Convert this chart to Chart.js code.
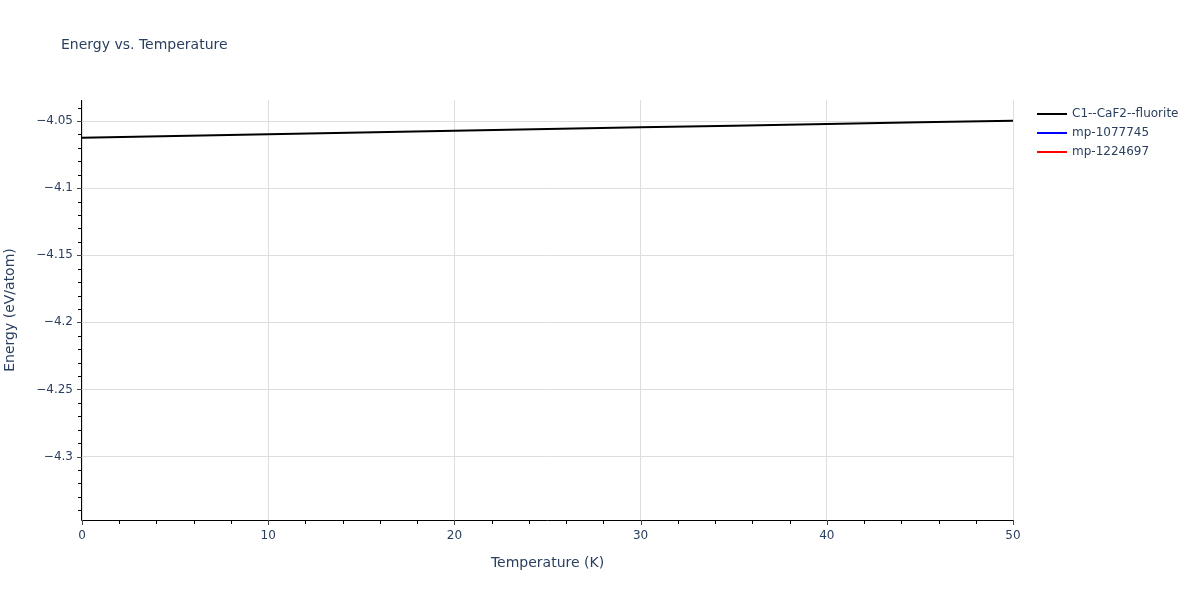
<!DOCTYPE html>
<html>
<head>
<meta charset="utf-8">
<script src="https://cdn.jsdelivr.net/npm/chart.js@4.4.1/dist/chart.umd.min.js"></script>
<style>
  html, body { margin: 0; padding: 0; background: #fff; }
  #wrap { position: relative; width: 1200px; height: 600px; }
</style>
</head>
<body>
<div id="wrap"><canvas id="energyChart" width="1200" height="600"></canvas></div>
<script>
// values
const temperatures = [0, 5, 10, 15, 20, 25, 30, 35, 40, 45, 50];
const energyFluorite = [-4.0625, -4.0612, -4.0599, -4.0586, -4.0573, -4.0560, -4.0547, -4.0534, -4.0521, -4.0509, -4.0497];
const energyMp1077745 = [];
const energyMp1224697 = [];
const seriesNames = ['C1--CaF2--fluorite', 'mp-1077745', 'mp-1224697'];
const seriesColors = ['#000000', '#0000ff', '#ff0000'];
const xTickValues = [0, 10, 20, 30, 40, 50];
const yTickValues = [-4.3, -4.25, -4.2, -4.15, -4.1, -4.05];

const fontFam = '"DejaVu Sans", Verdana, sans-serif';
const txtColor = '#2a3f5f';

function toPoints(xs, ys) {
	return ys.map((y, i) => ({ x: xs[i], y: y }));
}

// title, ticks (major + minor) and legend, plotly look
const extras = {
	id: 'extras',
	afterDraw(chart) {
		const ctx = chart.ctx;
		const area = chart.chartArea;
		const xs = chart.scales.x, ys = chart.scales.y;
		ctx.save();
		// title
		ctx.fillStyle = txtColor;
		ctx.font = '14px ' + fontFam;
		ctx.textBaseline = 'middle';
		ctx.textAlign = 'left';
		ctx.fillText('Energy vs. Temperature', 61, 45);

		// axis lines
		ctx.strokeStyle = '#000';
		ctx.lineWidth = 1;
		ctx.beginPath();
		ctx.moveTo(area.left - 0.5, area.top);
		ctx.lineTo(area.left - 0.5, area.bottom + 0.5);
		ctx.lineTo(area.right, area.bottom + 0.5);
		ctx.stroke();

		// minor ticks
		ctx.strokeStyle = '#000';
		ctx.beginPath();
		for (let v = 0; v <= 50.001; v += 2) {
			if (Math.abs(v % 10) < 1e-6) continue;
			const px = Math.round(xs.getPixelForValue(v)) + 0.5;
			ctx.moveTo(px, area.bottom);
			ctx.lineTo(px, area.bottom + 4);
		}
		for (let k = -434; k <= -404; k++) {
			if (k % 5 === 0) continue;
			const v = k / 100;
			if (v < ys.min || v > ys.max) continue;
			const py = Math.round(ys.getPixelForValue(v)) + 0.5;
			ctx.moveTo(area.left, py);
			ctx.lineTo(area.left - 4, py);
		}
		ctx.stroke();

		// major ticks
		ctx.strokeStyle = '#444';
		ctx.beginPath();
		xTickValues.forEach(v => {
			const px = Math.round(xs.getPixelForValue(v)) + 0.5;
			ctx.moveTo(px, area.bottom);
			ctx.lineTo(px, area.bottom + 5);
		});
		yTickValues.forEach(v => {
			const py = Math.round(ys.getPixelForValue(v)) + 0.5;
			ctx.moveTo(area.left, py);
			ctx.lineTo(area.left - 5, py);
		});
		ctx.stroke();

		// legend
		ctx.font = '12px ' + fontFam;
		ctx.textAlign = 'left';
		chart.data.datasets.forEach((ds, i) => {
			const y = 114 + i * 19;
			ctx.strokeStyle = ds.borderColor;
			ctx.lineWidth = 2;
			ctx.beginPath();
			ctx.moveTo(1037, y);
			ctx.lineTo(1067, y);
			ctx.stroke();
			ctx.fillStyle = txtColor;
			ctx.fillText(ds.label, 1072, y);
		});
		ctx.restore();
	}
};

const ctx = document.getElementById('energyChart');
const chart = new Chart(ctx, {
	type: 'line',
	data: {
		datasets: [
			{ label: seriesNames[0], data: toPoints(temperatures, energyFluorite), borderColor: seriesColors[0], backgroundColor: seriesColors[0], borderWidth: 2, pointRadius: 0, tension: 0 },
			{ label: seriesNames[1], data: toPoints(temperatures, energyMp1077745), borderColor: seriesColors[1], backgroundColor: seriesColors[1], borderWidth: 2, pointRadius: 0, tension: 0 },
			{ label: seriesNames[2], data: toPoints(temperatures, energyMp1224697), borderColor: seriesColors[2], backgroundColor: seriesColors[2], borderWidth: 2, pointRadius: 0, tension: 0 }
		]
	},
	options: {
		responsive: false,
		animation: false,
		layout: { padding: { top: 100, right: 187, left: 0, bottom: 0 } },
		plugins: {
			legend: { display: false },
			title: { display: false },
			tooltip: { enabled: false }
		},
		scales: {
			x: {
				type: 'linear',
				min: 0,
				max: 50,
				afterBuildTicks: s => { s.ticks = xTickValues.map(v => ({ value: v })); },
				afterFit: s => { s.height = 80; },
				grid: { color: '#dedede', drawTicks: false, drawOnChartArea: true },
				border: { display: false },
				ticks: { color: txtColor, font: { family: fontFam, size: 12 }, padding: 9, maxRotation: 0 },
				title: { display: true, text: 'Temperature (K)', color: txtColor, font: { family: fontFam, size: 14 }, padding: { top: 4, bottom: 28 } }
			},
			y: {
				type: 'linear',
				min: -4.3473,
				max: -4.0343,
				afterBuildTicks: s => { s.ticks = yTickValues.map(v => ({ value: v })); },
				afterFit: s => { s.width = 82; },
				grid: { color: '#dedede', drawTicks: false },
				border: { display: false },
				ticks: {
					color: txtColor,
					font: { family: fontFam, size: 12 },
					padding: 9,
					callback: v => String(Math.round(v * 100) / 100).replace('-', '\u2212')
				},
				title: { display: true, text: 'Energy (eV/atom)', color: txtColor, font: { family: fontFam, size: 14 }, padding: { top: 2, bottom: 2 } }
			}
		}
	},
	plugins: [extras]
});
</script>
</body>
</html>
